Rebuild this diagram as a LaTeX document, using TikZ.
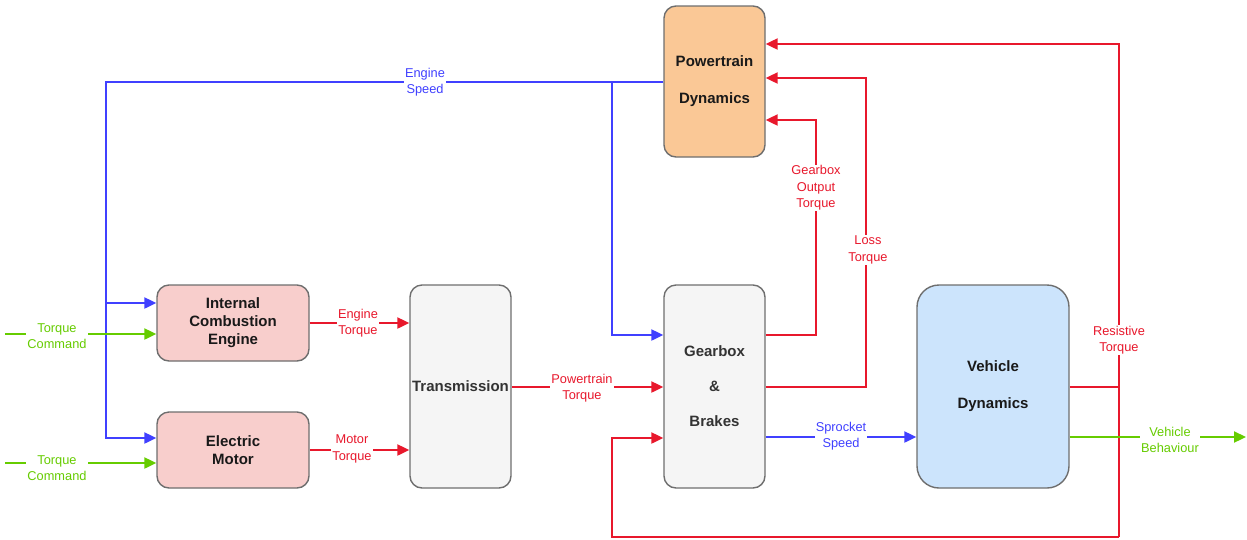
\documentclass[tikz,border=0pt]{standalone}
\usepackage{fontspec}
\setmainfont{Liberation Sans}
\usetikzlibrary{arrows.meta}
\definecolor{sigblue}{RGB}{64,64,255}
\definecolor{sigred}{RGB}{232,24,44}
\definecolor{siggreen}{RGB}{102,204,0}
\definecolor{pdfill}{RGB}{250,200,150}
\definecolor{engfill}{RGB}{248,206,204}
\definecolor{grayfill}{RGB}{245,245,245}
\definecolor{vdfill}{RGB}{204,228,252}
\definecolor{boxline}{RGB}{110,110,110}
\tikzset{
  block/.style={draw=boxline, line width=1.4pt, rounded corners=12pt, align=center,
    font=\fontsize{15}{18}\selectfont\bfseries, text=black!90, inner sep=2pt},
  wire/.style={line width=2.2pt},
  arr/.style={-{Triangle[length=12pt,width=11pt]}},
  bsig/.style={wire, draw=sigblue},
  rsig/.style={wire, draw=sigred},
  gsig/.style={wire, draw=siggreen},
  siglabel/.style={fill=white, inner sep=1pt, align=center,
    font=\fontsize{12.8}{16.5}\selectfont},
}
\begin{document}
\begin{tikzpicture}[x=1pt,y=-1pt]
\useasboundingbox (0,0) rectangle (1247,539);

% blocks
\node[block, fill=pdfill, minimum width=101pt, minimum height=151pt,
      font=\fontsize{15}{37}\selectfont\bfseries] (pd) at (714.5,81.5) {Powertrain\\Dynamics};
\node[block, fill=engfill, minimum width=152pt, minimum height=76pt] (ice) at (233,323)
      {Internal\\Combustion\\Engine};
\node[block, fill=engfill, minimum width=152pt, minimum height=76pt] (em) at (233,450)
      {Electric\\Motor};
\node[block, fill=grayfill, minimum width=101pt, minimum height=203pt, text=black!80] (tr) at (460.5,386.5)
      {Transmission};
\node[block, fill=grayfill, minimum width=101pt, minimum height=203pt, text=black!80,
      font=\fontsize{15}{35}\selectfont\bfseries] (gb) at (714.5,386.5) {Gearbox\\\&\\Brakes};
\node[block, fill=vdfill, rounded corners=22pt, minimum width=152pt, minimum height=203pt,
      font=\fontsize{15}{37}\selectfont\bfseries] (vd) at (993,386.5) {Vehicle\\Dynamics};

% junction and corner points
\coordinate (spdL) at (106,82);
\coordinate (spdR) at (612,82);
\coordinate (tcA) at (5,334);
\coordinate (tcB) at (5,463);
\coordinate (gotC) at (816,120);
\coordinate (lossC) at (866,78);
\coordinate (rj) at (1119,387);
\coordinate (rb) at (1119,537);
\coordinate (rl) at (612,537);
\coordinate (vbEnd) at (1246,437);

% engine speed feedback
\draw[bsig, arr] (pd.west |- spdL) -| (106,438) -- (em.west |- 0,438);
\draw[bsig, arr] (106,303) -- (ice.west |- 0,303);
\draw[bsig, arr] (spdR) |- (gb.west |- 0,335);

% torque commands
\draw[gsig, arr] (tcA) -- (ice.west |- tcA);
\draw[gsig, arr] (tcB) -- (em.west |- tcB);

% torques into transmission and gearbox
\draw[rsig, arr] (ice.east |- 0,323) -- (tr.west |- 0,323);
\draw[rsig, arr] (em.east |- 0,450) -- (tr.west |- 0,450);
\draw[rsig, arr] (tr.east |- 0,387) -- (gb.west |- 0,387);

% torques back to powertrain dynamics
\draw[rsig, arr] (gb.east |- 0,335) -| (gotC) -- (pd.east |- gotC);
\draw[rsig, arr] (gb.east |- 0,387) -| (lossC) -- (pd.east |- lossC);

% resistive torque
\draw[rsig] (vd.east |- rj) -- (rj);
\draw[rsig, arr] (rb) -- (1119,44) -- (pd.east |- 0,44);
\draw[rsig, arr] (rb) -- (rl) -- (612,438) -- (gb.west |- 0,438);

% sprocket speed and vehicle behaviour
\draw[bsig, arr] (gb.east |- 0,437) -- (vd.west |- 0,437);
\draw[gsig, arr] (vd.east |- vbEnd) -- (vbEnd);

% signal labels
\node[siglabel, text=sigblue] (lES) at (425,82) {Engine\\Speed};
\node[siglabel, text=siggreen] (lTC1) at (57,336) {Torque\\Command};
\node[siglabel, text=siggreen] (lTC2) at (57,468) {Torque\\Command};
\node[siglabel, text=sigred] (lET) at (358,323) {Engine\\Torque};
\node[siglabel, text=sigred] (lMT) at (352,449) {Motor\\Torque};
\node[siglabel, text=sigred] (lPT) at (582,388) {Powertrain\\Torque};
\node[siglabel, text=sigred] (lGO) at (816,188) {Gearbox\\Output\\Torque};
\node[siglabel, text=sigred] (lLT) at (868,250) {Loss\\Torque};
\node[siglabel, text=sigred] (lRT) at (1119,340) {Resistive\\Torque};
\node[siglabel, text=sigblue] (lSS) at (841,436) {Sprocket\\Speed};
\node[siglabel, text=siggreen] (lVB) at (1170,440) {Vehicle\\Behaviour};
\end{tikzpicture}
\end{document}
